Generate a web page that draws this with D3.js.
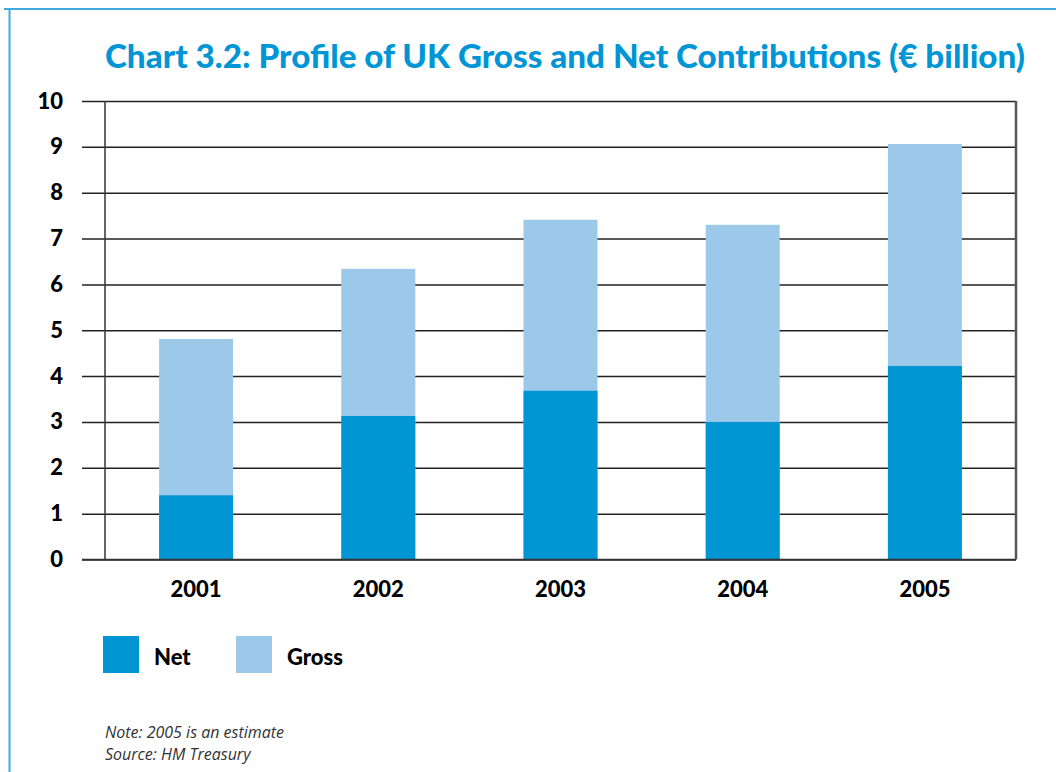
<!DOCTYPE html>
<html>
<head>
<meta charset="utf-8">
<script src="https://cdn.jsdelivr.net/npm/d3@7"></script>
<style>
  body { margin: 0; background: #fff; }
  svg { display: block; font-family: Lato, "Open Sans", sans-serif; }
</style>
</head>
<body>
<div id="chart"></div>
<script>
var years = ["2001", "2002", "2003", "2004", "2005"];
var grossValues = [4.81, 6.34, 7.41, 7.30, 9.06];
var netValues = [1.40, 3.13, 3.68, 3.00, 4.22];
var yTicks = [0, 1, 2, 3, 4, 5, 6, 7, 8, 9, 10];
var seriesNames = ["Net", "Gross"];

var svgWidth = 1056;
var svgHeight = 772;

var margin = { top: 101, right: 40, bottom: 213, left: 105 };
var width = 1016 - margin.left;
var height = 559.5 - margin.top;

var netColor = "#0095d3";
var grossColor = "#9cc8e9";

var svg = d3.select("#chart")
    .append("svg")
    .attr("width", svgWidth)
    .attr("height", svgHeight);

// frame lines
svg.append("line")
    .attr("x1", 4).attr("x2", svgWidth)
    .attr("y1", 9).attr("y2", 9)
    .attr("stroke", "#3da9dd").attr("stroke-width", 2);
svg.append("line")
    .attr("x1", 9.5).attr("x2", 9.5)
    .attr("y1", 9).attr("y2", svgHeight)
    .attr("stroke", "#3da9dd").attr("stroke-width", 2);

svg.append("text")
    .attr("x", 105)
    .attr("y", 68)
    .attr("fill", "#0096d6")
    .attr("font-size", 33)
    .attr("font-weight", 900)
    .attr("textLength", 920)
    .attr("lengthAdjust", "spacingAndGlyphs")
    .text("Chart 3.2: Profile of UK Gross and Net Contributions (€ billion)");

var chartGroup = svg.append("g")
    .attr("transform", `translate(${margin.left}, ${margin.top})`);

var xScale = d3.scaleBand()
    .domain(years)
    .range([0, width])
    .paddingInner(0.594)
    .paddingOuter(0.297);

var yScale = d3.scaleLinear()
    .domain([0, 10])
    .range([height, 0]);

// gridlines + y labels
var leftAxis = d3.axisLeft(yScale)
    .tickValues(yTicks)
    .tickSize(-(width + 23))
    .tickPadding(19)
    .tickFormat(d3.format("d"));

var yAxis = chartGroup.append("g")
    .attr("transform", "translate(-23, 0)")
    .call(leftAxis)
    .attr("font-family", null);
yAxis.select(".domain").remove();
yAxis.selectAll(".tick line")
    .attr("stroke", "#222")
    .attr("stroke-width", 1.5);
yAxis.selectAll(".tick text")
    .attr("fill", "#000")
    .attr("font-size", 22)
    .attr("font-weight", 900);

// plot box sides
chartGroup.append("line")
    .attr("x1", 0).attr("x2", 0)
    .attr("y1", 0).attr("y2", height)
    .attr("stroke", "#333").attr("stroke-width", 1.5);
chartGroup.append("line")
    .attr("x1", width).attr("x2", width)
    .attr("y1", 0).attr("y2", height)
    .attr("stroke", "#555").attr("stroke-width", 2.5);

chartGroup.selectAll(".gross")
    .data(grossValues)
    .enter().append("rect")
    .attr("class", "gross")
    .attr("x", (d, i) => xScale(years[i]))
    .attr("y", d => yScale(d))
    .attr("width", xScale.bandwidth())
    .attr("height", d => height - yScale(d))
    .attr("fill", grossColor);

chartGroup.selectAll(".net")
    .data(netValues)
    .enter().append("rect")
    .attr("class", "net")
    .attr("x", (d, i) => xScale(years[i]))
    .attr("y", d => yScale(d))
    .attr("width", xScale.bandwidth())
    .attr("height", d => height - yScale(d))
    .attr("fill", netColor);

// bottom line redrawn over bars
chartGroup.append("line")
    .attr("x1", -23).attr("x2", width)
    .attr("y1", height).attr("y2", height)
    .attr("stroke", "#333").attr("stroke-width", 1.5);

var bottomAxis = d3.axisBottom(xScale)
    .tickSize(0)
    .tickPadding(22);

var xAxis = chartGroup.append("g")
    .attr("transform", `translate(0, ${height})`)
    .call(bottomAxis)
    .attr("font-family", null);
xAxis.select(".domain").remove();
xAxis.selectAll(".tick text")
    .attr("fill", "#000")
    .attr("font-size", 22)
    .attr("font-weight", 900);

// legend
var legendColors = [netColor, grossColor];
var legend = svg.append("g")
    .attr("transform", "translate(103, 636)");

var legendItems = legend.selectAll("g")
    .data(seriesNames)
    .enter().append("g")
    .attr("transform", (d, i) => `translate(${i * 133}, 0)`);

legendItems.append("rect")
    .attr("width", 36)
    .attr("height", 37)
    .attr("fill", (d, i) => legendColors[i]);

legendItems.append("text")
    .attr("x", 51)
    .attr("y", 29)
    .attr("fill", "#000")
    .attr("font-size", 22)
    .attr("font-weight", 900)
    .text(d => d);

// notes
var notes = ["Note: 2005 is an estimate", "Source: HM Treasury"];
svg.selectAll(".note")
    .data(notes)
    .enter().append("text")
    .attr("class", "note")
    .attr("x", 105)
    .attr("y", (d, i) => 738 + i * 22)
    .attr("fill", "#333")
    .attr("font-family", "'Open Sans', sans-serif")
    .attr("font-size", 16)
    .attr("font-style", "italic")
    .text(d => d);
</script>
</body>
</html>
